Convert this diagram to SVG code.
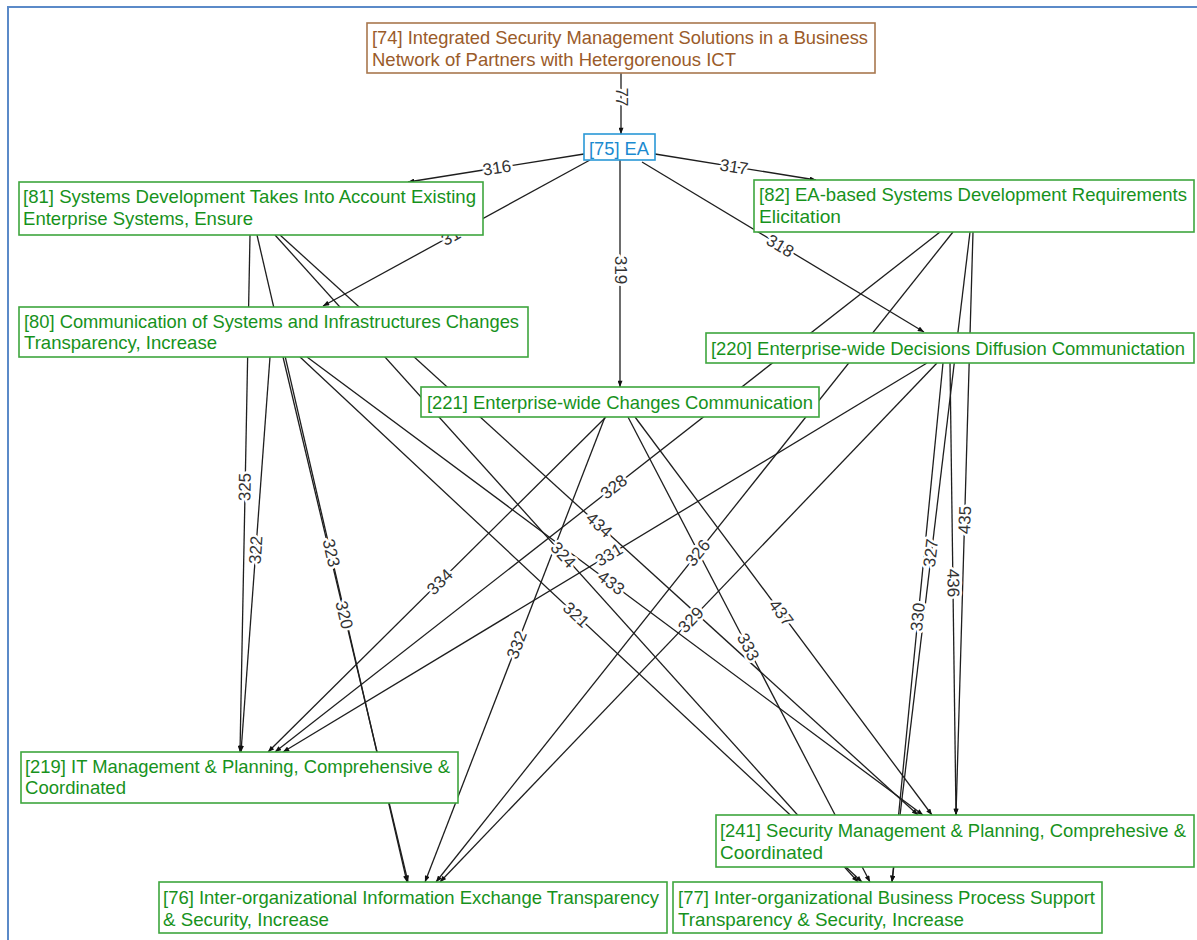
<svg xmlns="http://www.w3.org/2000/svg" width="1197" height="940" viewBox="0 0 1197 940">
  <style>
    .n rect { fill: #ffffff; stroke: #3ea63e; stroke-width: 1.6; }
    .n text { font-family: "Liberation Sans", Arial, sans-serif; font-size: 19px; fill: #17921c; }
    .n text.long { font-size: 18px; }
    .n.root rect { stroke: #a8774e; }
    .n.root text { fill: #9a5b2a; }
    .n.ea rect { stroke: #2a98d6; }
    .n.ea text { fill: #1b8ad0; }
    .e line { stroke: #1e1e1e; stroke-width: 1.3; marker-end: url(#ah); }
    .e text { font-family: "Liberation Sans", Arial, sans-serif; font-size: 17px; fill: #333333;
              stroke: #ffffff; stroke-width: 5px; paint-order: stroke; stroke-linejoin: round;
              text-anchor: middle; dominant-baseline: central; }
  </style>
  <defs>
    <marker id="ah" viewBox="0 0 10 8" refX="10" refY="4" markerWidth="7" markerHeight="5"
            markerUnits="userSpaceOnUse" orient="auto">
      <path d="M0,0 L10,4 L0,8 z" fill="#111111"/>
    </marker>
  </defs>

  <rect x="0" y="0" width="1197" height="940" fill="#ffffff"/>
  <!-- frame -->
  <path d="M8,940 V7 H1197" fill="none" stroke="#5b8ac8" stroke-width="2"/>

  <!-- connectors -->
  <g id="connectors" class="e">
    <line x1="621" y1="73" x2="621" y2="134"/>
    <line x1="584" y1="154" x2="408" y2="182"/>
    <line x1="655" y1="154" x2="816" y2="180"/>
    <line x1="590" y1="160" x2="323" y2="306"/>
    <line x1="620" y1="160" x2="620" y2="387"/>
    <line x1="642" y1="162" x2="924" y2="332"/>

    <line x1="250" y1="235" x2="240" y2="752"/>
    <line x1="257" y1="235" x2="407" y2="882"/>
    <line x1="275" y1="235" x2="858" y2="882"/>
    <line x1="280" y1="235" x2="918" y2="815"/>

    <line x1="270" y1="357" x2="241" y2="752"/>
    <line x1="283" y1="357" x2="408" y2="882"/>
    <line x1="300" y1="357" x2="862" y2="882"/>
    <line x1="307" y1="357" x2="923" y2="815"/>

    <line x1="606" y1="417" x2="268" y2="752"/>
    <line x1="605" y1="417" x2="425" y2="882"/>
    <line x1="628" y1="417" x2="870" y2="882"/>
    <line x1="635" y1="417" x2="932" y2="815"/>

    <line x1="940" y1="232" x2="275" y2="752"/>
    <line x1="953" y1="232" x2="436" y2="882"/>
    <line x1="970" y1="232" x2="892" y2="882"/>
    <line x1="973" y1="232" x2="956" y2="815"/>

    <line x1="927" y1="363" x2="283" y2="752"/>
    <line x1="937" y1="363" x2="440" y2="882"/>
    <line x1="943" y1="363" x2="892" y2="882"/>
    <line x1="950" y1="363" x2="956" y2="815"/>

    <!-- edge labels -->
    <text transform="translate(621,97) rotate(90)">77</text>
    <text transform="translate(497,168) rotate(-9)">316</text>
    <text transform="translate(734,167) rotate(9.2)">317</text>
    <text transform="translate(451,237) rotate(-28.7)">31</text>
    <text transform="translate(620,270) rotate(90)">319</text>
    <text transform="translate(780,246) rotate(31.1)">318</text>

    <text transform="translate(245,487) rotate(-88.9)">325</text>
    <text transform="translate(331,553) rotate(77)">323</text>
    <text transform="translate(563,555) rotate(48)">324</text>
    <text transform="translate(599,525) rotate(42.3)">434</text>

    <text transform="translate(256,550) rotate(-85.8)">322</text>
    <text transform="translate(344,615) rotate(76.6)">320</text>
    <text transform="translate(576,615) rotate(43)">321</text>
    <text transform="translate(611,583) rotate(36.6)">433</text>

    <text transform="translate(440,582) rotate(-44.7)">334</text>
    <text transform="translate(517,645) rotate(-68.8)">332</text>
    <text transform="translate(748,647) rotate(62.5)">333</text>
    <text transform="translate(781,613) rotate(53.3)">437</text>

    <text transform="translate(614,487) rotate(-38)">328</text>
    <text transform="translate(698,553) rotate(-51.5)">326</text>
    <text transform="translate(931,553) rotate(-83.2)">327</text>
    <text transform="translate(965,520) rotate(-88.3)">435</text>

    <text transform="translate(609,555) rotate(-31.1)">331</text>
    <text transform="translate(691,620) rotate(-46.2)">329</text>
    <text transform="translate(918,617) rotate(-84.4)">330</text>
    <text transform="translate(953,583) rotate(89.2)">436</text>
  </g>

  <!-- nodes -->
  <g id="n74" class="n root">
    <rect x="367" y="23" width="508" height="50"/>
    <text x="372" y="44" textLength="496" lengthAdjust="spacingAndGlyphs">[74] Integrated Security Management Solutions in a Business</text>
    <text x="372" y="66" textLength="364" lengthAdjust="spacingAndGlyphs">Network of Partners with Hetergorenous ICT</text>
  </g>
  <g id="n75" class="n ea">
    <rect x="584" y="134" width="71" height="26"/>
    <text x="589" y="155" textLength="60" lengthAdjust="spacingAndGlyphs">[75] EA</text>
  </g>
  <g id="n81" class="n">
    <rect x="19" y="182" width="464" height="53"/>
    <text x="23" y="203" textLength="453" lengthAdjust="spacingAndGlyphs">[81] Systems Development Takes Into Account Existing</text>
    <text x="23" y="225" textLength="230" lengthAdjust="spacingAndGlyphs">Enterprise Systems, Ensure</text>
  </g>
  <g id="n82" class="n">
    <rect x="754" y="180" width="440" height="52"/>
    <text x="759" y="201" textLength="428" lengthAdjust="spacingAndGlyphs">[82] EA-based Systems Development Requirements</text>
    <text x="759" y="223" textLength="82" lengthAdjust="spacingAndGlyphs">Elicitation</text>
  </g>
  <g id="n80" class="n">
    <rect x="19" y="307" width="509" height="50"/>
    <text x="24" y="328" textLength="495" lengthAdjust="spacingAndGlyphs">[80] Communication of Systems and Infrastructures Changes</text>
    <text x="24" y="349" textLength="193" lengthAdjust="spacingAndGlyphs">Transparency, Increase</text>
  </g>
  <g id="n220" class="n">
    <rect x="706" y="333" width="488" height="30"/>
    <text class="long" x="711" y="355" textLength="474" lengthAdjust="spacingAndGlyphs">[220] Enterprise-wide Decisions Diffusion Communictation</text>
  </g>
  <g id="n221" class="n">
    <rect x="421" y="387" width="398" height="30"/>
    <text x="427" y="409" textLength="386" lengthAdjust="spacingAndGlyphs">[221] Enterprise-wide Changes Communication</text>
  </g>
  <g id="n219" class="n">
    <rect x="21" y="752" width="437" height="51"/>
    <text x="25" y="773" textLength="425" lengthAdjust="spacingAndGlyphs">[219] IT Management &amp; Planning, Comprehensive &amp;</text>
    <text x="25" y="794" textLength="101" lengthAdjust="spacingAndGlyphs">Coordinated</text>
  </g>
  <g id="n241" class="n">
    <rect x="716" y="815" width="478" height="52"/>
    <text class="long" x="720" y="837" textLength="466" lengthAdjust="spacingAndGlyphs">[241] Security Management &amp; Planning, Comprehesive &amp;</text>
    <text x="720" y="859" textLength="103" lengthAdjust="spacingAndGlyphs">Coordinated</text>
  </g>
  <g id="n76" class="n">
    <rect x="159" y="882" width="508" height="51"/>
    <text x="163" y="904" textLength="496" lengthAdjust="spacingAndGlyphs">[76] Inter-organizational Information Exchange Transparency</text>
    <text x="163" y="926" textLength="166" lengthAdjust="spacingAndGlyphs">&amp; Security, Increase</text>
  </g>
  <g id="n77" class="n">
    <rect x="673" y="882" width="429" height="51"/>
    <text x="678" y="904" textLength="417" lengthAdjust="spacingAndGlyphs">[77] Inter-organizational Business Process Support</text>
    <text x="678" y="926" textLength="286" lengthAdjust="spacingAndGlyphs">Transparency &amp; Security, Increase</text>
  </g>
</svg>
